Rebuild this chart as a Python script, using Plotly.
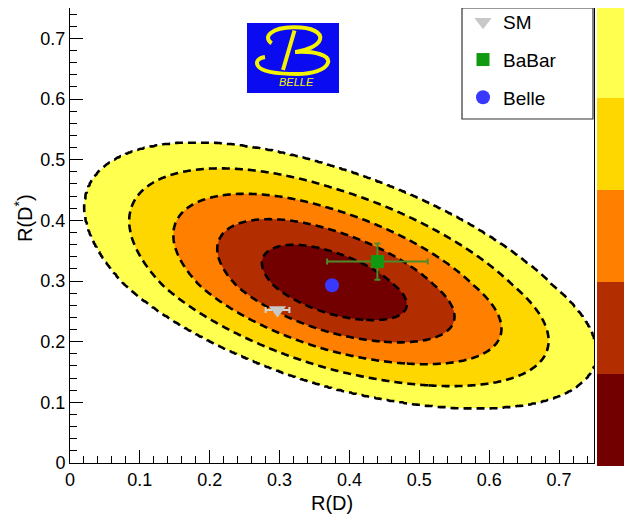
import numpy as np
import plotly.graph_objects as go

# ---------------- data ----------------
x_ticks = [0, 0.1, 0.2, 0.3, 0.4, 0.5, 0.6, 0.7]
x_tick_labels = ["0", "0.1", "0.2", "0.3", "0.4", "0.5", "0.6", "0.7"]
y_ticks = [0, 0.1, 0.2, 0.3, 0.4, 0.5, 0.6, 0.7]
y_tick_labels = ["0", "0.1", "0.2", "0.3", "0.4", "0.5", "0.6", "0.7"]

# Belle likelihood contour model: centre, asymmetric widths, correlation
lik_center = [0.375, 0.293]
lik_sigma_x = [0.066, 0.0705]   # (left, right)
lik_sigma_y = [0.0378, 0.0438]  # (down, up)
lik_rho = -0.55
sigma_levels = [1, 2, 3, 4, 5]
dchi2_levels = [2.30, 6.18, 11.83, 19.33, 28.74]   # 2-dof, 1..5 sigma

# points
sm_rd, sm_rds = [0.297], [0.252]
sm_err_rd, sm_err_rds = [0.017], [0.003]
babar_rd, babar_rds = [0.440], [0.332]
babar_err_rd, babar_err_rds = [0.072], [0.030]
belle_rd, belle_rds = [0.375], [0.293]

band_colors = ["#720000", "#b22d00", "#ff8000", "#ffd700", "#ffff50"]

# ---------------- geometry (screen pixels; page has an 8px body margin) ----------------
OFF = 8
W, H = 632 - OFF, 514 - OFF
SL, SR, ST, SB = 70, 594, 8, 463       # plot area in screen pixels


def pxx(p):
    return (p - SL) / (SR - SL)


def pxy(p):
    return (SB - p) / (SB - ST)


# ---------------- contour grid ----------------
gx = np.linspace(0, 0.75, 376)
gy = np.linspace(0, 0.75, 376)
X, Y = np.meshgrid(gx, gy)
dx = X - lik_center[0]
dy = Y - lik_center[1]
u = np.where(dx < 0, dx / lik_sigma_x[0], dx / lik_sigma_x[1])
v = np.where(dy < 0, dy / lik_sigma_y[0], dy / lik_sigma_y[1])
chi2 = (u ** 2 - 2 * lik_rho * u * v + v ** 2) / (1 - lik_rho ** 2)
z = np.interp(chi2, [0] + dchi2_levels + [dchi2_levels[-1] * 4],
              [0] + sigma_levels + [sigma_levels[-1] + 1])

fig = go.Figure()

fig.add_trace(go.Contour(
    x=gx, y=gy, z=z,
    contours=dict(start=1, end=5, size=1, coloring="fill", showlines=True),
    line=dict(color="black", width=2.6, dash="8px,5px", smoothing=1),
    colorscale=[[0.0, band_colors[0]], [0.2, band_colors[1]], [0.4, band_colors[2]],
                [0.6, band_colors[3]], [0.8, band_colors[4]], [1.0, "#ffffff"]],
    showscale=False, hoverinfo="skip", showlegend=False,
))

# colour bar (5 discrete bands) from an off-range helper heatmap
cs = []
for i, c in enumerate(band_colors):
    cs.append([i / 5, c])
    cs.append([(i + 1) / 5, c])
fig.add_trace(go.Heatmap(
    x=[-2, -1.9], y=[-2, -1.9], z=[[0, 5], [5, 0]], zmin=0, zmax=5, colorscale=cs,
    showscale=True, hoverinfo="skip", showlegend=False,
    colorbar=dict(x=pxx(597), xanchor="left", xpad=0, thickness=29,
                  len=1.01, lenmode="fraction", y=0.5, yanchor="middle", ypad=0,
                  outlinewidth=0, showticklabels=False, ticks=""),
))

# points
fig.add_trace(go.Scatter(
    x=sm_rd, y=sm_rds, mode="markers", name="SM", legendgroup="a",
    marker=dict(symbol="triangle-down", size=15, color="#c8c8c8"),
    error_x=dict(type="data", array=sm_err_rd, color="#d4d4d4", thickness=2, width=3),
    error_y=dict(type="data", array=sm_err_rds, color="#d4d4d4", thickness=2, width=3),
))
fig.add_trace(go.Scatter(
    x=babar_rd, y=babar_rds, mode="markers", name="BaBar", legendgroup="b",
    marker=dict(symbol="square", size=13, color="#119a11"),
    error_x=dict(type="data", array=babar_err_rd, color="#4f8a2a", thickness=2, width=3),
    error_y=dict(type="data", array=babar_err_rds, color="#4f8a2a", thickness=2, width=3),
))
fig.add_trace(go.Scatter(
    x=belle_rd, y=belle_rds, mode="markers", name="Belle", legendgroup="c",
    marker=dict(symbol="circle", size=14, color="#3838ff"),
))

# ---------------- shapes: legend box, colour-bar ticks and Belle logo ----------------
shapes = []
shapes.append(dict(type="rect", xref="paper", yref="paper",
                   x0=pxx(462), x1=pxx(593), y0=pxy(119), y1=pxy(8),
                   fillcolor="white", line=dict(color="#333333", width=1.2), layer="above"))
for by in (97, 189, 282, 373):
    shapes.append(dict(type="line", xref="paper", yref="paper",
                       x0=pxx(612), x1=pxx(626), y0=pxy(by), y1=pxy(by),
                       line=dict(color="black", width=1.2), layer="above"))
shapes.append(dict(type="rect", xref="paper", yref="paper",
                   x0=pxx(247), x1=pxx(339), y0=pxy(93), y1=pxy(23),
                   fillcolor="#0b0bf2", line=dict(width=0), layer="above"))


def path_from(segs):
    out = []
    for s in segs:
        if isinstance(s, str):
            out.append(s)
        else:
            out.append("%.5f,%.5f" % (pxx(s[0]), pxy(s[1])))
    return " ".join(out)


logo_yellow = "#f4f400"
upper = path_from(["M", (271.7, 43.3), "C", (262, 37), (272, 27.5), (293, 27.3),
                   "C", (313, 27), (322, 33), (320, 39.5),
                   "C", (318, 46), (306, 50.5), (296, 52)])
lower = path_from(["M", (295, 52), "C", (316, 51), (330, 55.5), (328, 62.5),
                   "C", (326, 70), (311, 74), (298, 74),
                   "C", (280, 74), (262, 72), (258, 66),
                   "C", (255, 61), (259, 58), (265, 57)])
stem = path_from(["M", (283, 70), "L", (294.5, 30.5)])
for p in (upper, lower, stem):
    shapes.append(dict(type="path", xref="paper", yref="paper", path=p,
                       line=dict(color=logo_yellow, width=4), layer="above"))

fig.update_layout(shapes=shapes)

tickfont = dict(family="Liberation Sans, Arial, sans-serif", size=18, color="black")

annotations = [
    dict(text="<i>BELLE</i>", xref="paper", yref="paper", x=pxx(296), y=pxy(82),
         showarrow=False, font=dict(family="Liberation Sans, Arial", size=11, color=logo_yellow),
         xanchor="center", yanchor="middle"),
    dict(text="R(D)", xref="paper", yref="paper", x=pxx(332), y=pxy(503),
         showarrow=False, font=dict(family="Liberation Sans, Arial", size=20, color="black"),
         xanchor="center", yanchor="middle"),
    dict(text="R(D<sup>*</sup>)", xref="paper", yref="paper", x=pxx(23), y=pxy(218),
         showarrow=False, textangle=-90,
         font=dict(family="Liberation Sans, Arial", size=20, color="black"),
         xanchor="center", yanchor="middle"),
]
fig.update_layout(annotations=annotations)

axis_common = dict(
    range=[0, 0.75], showgrid=False, zeroline=False,
    showline=True, linecolor="black", linewidth=1, mirror=True,
    ticks="inside", ticklen=13, tickwidth=1, tickcolor="black",
    minor=dict(dtick=0.02, tick0=0, ticks="inside", ticklen=7, tickcolor="black", tickwidth=1),
    tickfont=tickfont,
)
fig.update_xaxes(**axis_common, tickvals=x_ticks, ticktext=x_tick_labels)
fig.update_yaxes(**axis_common, tickvals=y_ticks, ticktext=y_tick_labels)

fig.update_layout(
    width=W, height=H,
    margin=dict(l=SL - OFF, r=W - (SR - OFF), t=ST - OFF, b=H - (SB - OFF), pad=0,
                autoexpand=False),
    paper_bgcolor="white", plot_bgcolor="white",
    showlegend=True,
    legend=dict(x=pxx(463), xanchor="left", y=pxy(3), yanchor="top",
                bgcolor="rgba(0,0,0,0)", borderwidth=0,
                font=dict(family="Liberation Sans, Arial, sans-serif", size=19, color="black"),
                tracegroupgap=10, itemsizing="trace"),
)

fig.write_html("out.html")
